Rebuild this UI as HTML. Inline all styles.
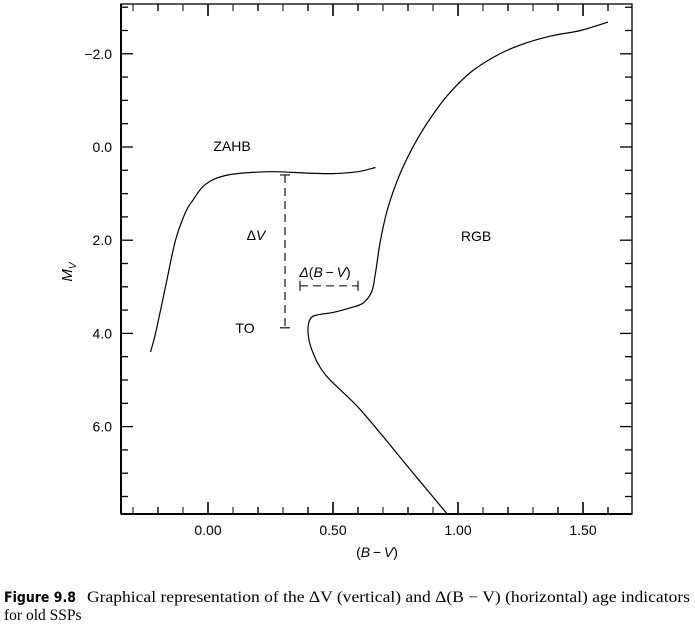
<!DOCTYPE html>
<html><head><meta charset="utf-8"><style>
html,body{margin:0;padding:0;background:#fff;}
svg{display:block;}
</style></head><body>
<svg id="chart" width="695" height="627" viewBox="0 0 695 627" xmlns="http://www.w3.org/2000/svg" font-family="Liberation Sans, sans-serif">
<g id="axes"></g>
<g id="series"></g>
<g id="labels"></g>
<text x="4" y="602" font-family="DejaVu Sans Condensed, Liberation Sans, sans-serif" font-weight="bold" font-size="14.5" textLength="72" lengthAdjust="spacingAndGlyphs">Figure 9.8</text>
<text x="87" y="602" font-family="Liberation Serif, serif" font-size="15.5" textLength="603" lengthAdjust="spacingAndGlyphs">Graphical representation of the ΔV (vertical) and Δ(B − V) (horizontal) age indicators</text>
<text x="4" y="620" font-family="Liberation Serif, serif" font-size="15.5">for old SSPs</text>
</svg>
<script>
// data
const xTicks = [0.0, 0.5, 1.0, 1.5];
const xTickLabels = ["0.00", "0.50", "1.00", "1.50"];
const yTicks = [-2, 0, 2, 4, 6];
const yTickLabels = ["\u22122.0", "0.0", "2.0", "4.0", "6.0"];
const zahbBV = [-0.23, -0.21, -0.17, -0.13, -0.09, -0.06, -0.01, 0.08, 0.25, 0.40, 0.50, 0.60, 0.67];
const zahbMV = [4.4, 4.0, 3.0, 2.0, 1.4, 1.14, 0.8, 0.6, 0.53, 0.56, 0.57, 0.53, 0.44];
const isoBV = [0.956, 0.81, 0.61, 0.47, 0.415, 0.40, 0.41, 0.44, 0.50, 0.57, 0.62, 0.655, 0.67, 0.69, 0.72, 0.77, 0.83, 0.89, 0.96, 1.05, 1.15, 1.25, 1.37, 1.49, 1.60];
const isoMV = [7.87, 6.93, 5.64, 4.89, 4.35, 3.95, 3.68, 3.6, 3.55, 3.45, 3.35, 3.1, 2.7, 2.0, 1.3, 0.55, -0.1, -0.62, -1.12, -1.6, -1.95, -2.19, -2.38, -2.5, -2.68];
const dV = [0.308, 0.6, 3.88];        // x, top, bottom
const dBV = [0.368, 0.60, 2.98];      // left, right, y

const NS = "http://www.w3.org/2000/svg";
const L = 121, R = 632, T = 4, B = 514;
const X = v => 208 + 250 * v;
const Y = v => 147 + 46.6 * v;
function mk(tag, attrs, parent, txt) {
  const e = document.createElementNS(NS, tag);
  for (const k in attrs) e.setAttribute(k, attrs[k]);
  if (txt !== undefined) e.textContent = txt;
  parent.appendChild(e);
  return e;
}
const axes = document.getElementById('axes');
const series = document.getElementById('series');
const labels = document.getElementById('labels');

const frame = mk('rect', {x: L, y: T, width: R - L, height: B - T, fill: 'none', stroke: '#000', 'stroke-width': 1.3}, axes);


mk('line', {x1: L, y1: T, x2: L, y2: B, stroke: '#000', 'stroke-width': 2}, axes);
mk('line', {x1: L, y1: B, x2: R, y2: B, stroke: '#000', 'stroke-width': 2}, axes);

for (let i = -3; i <= 16; i++) {
  const v = i / 10, px = X(v);
  if (px < L + 2 || px > R - 2) continue;
  const len = (i % 5 === 0) ? 12 : 7;
  const sw = (i % 5 === 0) ? 1.6 : (i % 2 === 0 ? 1.4 : 1);
  mk('line', {x1: px, y1: B, x2: px, y2: B - len, stroke: '#000', 'stroke-width': sw}, axes);
  mk('line', {x1: px, y1: T, x2: px, y2: T + len, stroke: '#000', 'stroke-width': sw}, axes);
}
for (let i = -6; i <= 15; i++) {
  const v = i / 2, py = Y(v);
  if (py < T + 2 || py > B - 2) continue;
  const len = (i % 4 === 0) ? 12 : 7;
  mk('line', {x1: L, y1: py, x2: L + len, y2: py, stroke: '#000', 'stroke-width': 1.3}, axes);
  mk('line', {x1: R, y1: py, x2: R - len, y2: py, stroke: '#000', 'stroke-width': 1.3}, axes);
}
xTicks.forEach((v, i) => {
  const t = mk('text', {x: X(v), y: 535, 'text-anchor': 'middle', 'font-size': 14}, axes, xTickLabels[i]);
  
  
});
yTicks.forEach((v, i) => {
  const t = mk('text', {x: 112, y: Y(v) + 5, 'text-anchor': 'end', 'font-size': 14}, axes, yTickLabels[i]);
  
  
});
const xt = mk('text', {x: 377, y: 557, 'text-anchor': 'middle', 'font-size': 14}, axes, '');
xt.innerHTML = '(<tspan font-style="italic">B</tspan>\u2009\u2212\u2009<tspan font-style="italic">V</tspan>)';


const yt = mk('text', {transform: 'translate(72,272) rotate(-90)', 'text-anchor': 'middle', 'font-size': 15, 'font-style': 'italic'}, axes, '');
yt.innerHTML = 'M<tspan font-size="10" dy="4">V</tspan>';



function smooth(xs, ys) {
  const p = xs.map((v, i) => [X(v), Y(ys[i])]);
  let d = 'M' + p[0][0].toFixed(1) + ' ' + p[0][1].toFixed(1);
  for (let i = 0; i < p.length - 1; i++) {
    const p0 = p[Math.max(0, i - 1)], p1 = p[i], p2 = p[i + 1], p3 = p[Math.min(p.length - 1, i + 2)];
    const c1 = [p1[0] + (p2[0] - p0[0]) / 6, p1[1] + (p2[1] - p0[1]) / 6];
    const c2 = [p2[0] - (p3[0] - p1[0]) / 6, p2[1] - (p3[1] - p1[1]) / 6];
    d += ' C' + c1.map(n => n.toFixed(1)).join(' ') + ' ' + c2.map(n => n.toFixed(1)).join(' ') + ' ' + p2[0].toFixed(1) + ' ' + p2[1].toFixed(1);
  }
  return d;
}
const z = mk('path', {d: smooth(zahbBV, zahbMV), fill: 'none', stroke: '#000', 'stroke-width': 1.2}, series);


const iso = mk('path', {d: smooth(isoBV, isoMV), fill: 'none', stroke: '#000', 'stroke-width': 1.2}, series);



const dv = mk('line', {x1: X(dV[0]), y1: Y(dV[1]), x2: X(dV[0]), y2: Y(dV[2]), stroke: '#000', 'stroke-width': 1.1, 'stroke-dasharray': '8,5'}, series);


mk('line', {x1: X(dV[0]) - 5, y1: Y(dV[1]), x2: X(dV[0]) + 5, y2: Y(dV[1]), stroke: '#000', 'stroke-width': 1.1}, series);
mk('line', {x1: X(dV[0]) - 5, y1: Y(dV[2]), x2: X(dV[0]) + 5, y2: Y(dV[2]), stroke: '#000', 'stroke-width': 1.1}, series);
const db = mk('line', {x1: X(dBV[0]), y1: Y(dBV[2]), x2: X(dBV[1]), y2: Y(dBV[2]), stroke: '#000', 'stroke-width': 1.1, 'stroke-dasharray': '8,5'}, series);


mk('line', {x1: X(dBV[0]), y1: Y(dBV[2]) - 5, x2: X(dBV[0]), y2: Y(dBV[2]) + 5, stroke: '#000', 'stroke-width': 1.1}, series);
mk('line', {x1: X(dBV[1]), y1: Y(dBV[2]) - 5, x2: X(dBV[1]), y2: Y(dBV[2]) + 5, stroke: '#000', 'stroke-width': 1.1}, series);

function lab(x, y, html, name) {
  const t = mk('text', {x: x, y: y, 'text-anchor': 'middle', 'font-size': 14}, labels, '');
  t.innerHTML = html;
  
  
}
lab(232, 151, 'ZAHB', 'zahb-label');
lab(256, 240, '\u0394<tspan font-style="italic">V</tspan>', 'delta-v-label');
lab(325, 277, '<tspan font-style="italic">\u0394</tspan>(<tspan font-style="italic">B</tspan>\u2009\u2212\u2009<tspan font-style="italic">V</tspan>)', 'delta-bv-label');
lab(245, 333, 'TO', 'to-label');
lab(476, 241, 'RGB', 'rgb-label');
</script>
</body></html>
